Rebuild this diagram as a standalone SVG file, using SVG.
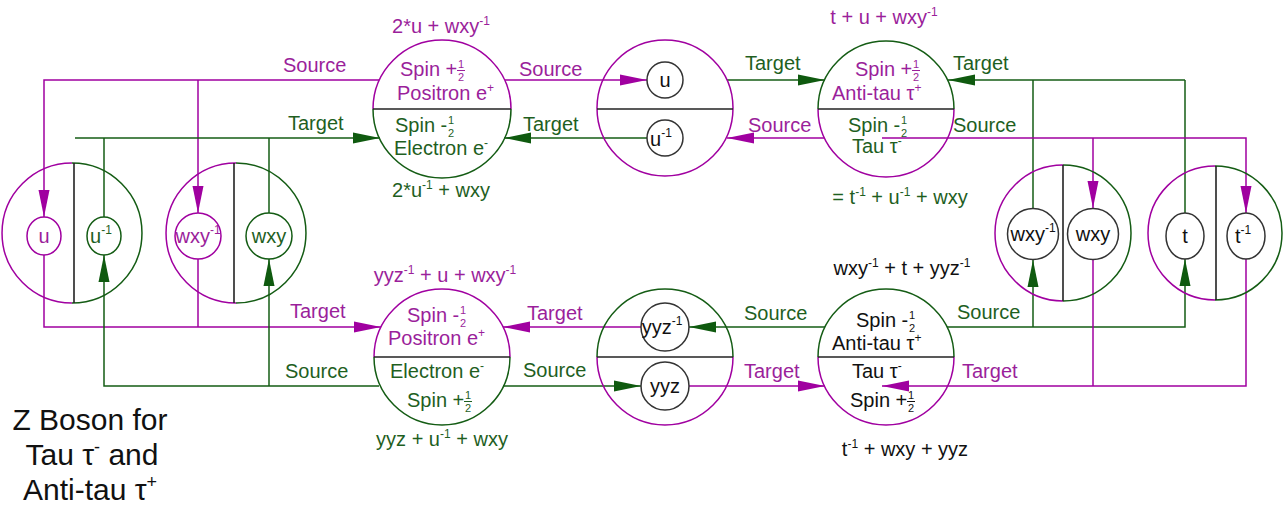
<svg xmlns="http://www.w3.org/2000/svg" width="1286" height="508" viewBox="0 0 1286 508">
<style>
text{font-family:"Liberation Sans",Arial,sans-serif;font-size:20px}
.m{fill:#9b1f9b}.g{fill:#1f5f1f}.k{fill:#111}
.fr{font-size:11px}
.sm{font-size:12px}
.big{font-size:30px;fill:#111}
.lm{stroke:#a000a0;stroke-width:1.5;fill:none}
.lg{stroke:#145c14;stroke-width:1.5;fill:none}
.ak{stroke:#333;stroke-width:1.5;fill:none}
.dv{stroke:#222;stroke-width:1.6}
.bm{stroke:#9b1f9b;stroke-width:1}
.bg{stroke:#1f5f1f;stroke-width:1}
.bk{stroke:#111;stroke-width:1}
</style>
<defs>
<marker id="aM" markerUnits="userSpaceOnUse" markerWidth="28" markerHeight="12" refX="27" refY="6" orient="auto"><path d="M0,0.5 L27,6 L0,11.5 z" fill="#a000a0"/></marker>
<marker id="aG" markerUnits="userSpaceOnUse" markerWidth="28" markerHeight="12" refX="27" refY="6" orient="auto"><path d="M0,0.5 L27,6 L0,11.5 z" fill="#0f5a0f"/></marker>
</defs>
<rect width="1286" height="508" fill="#fff"/>

<g id="connectors">
<path class="lm" d="M379,80 H44 V217" marker-end="url(#aM)"/>
<path class="lm" d="M198,80 V213" marker-end="url(#aM)"/>
<path class="lm" d="M44,255 V327 H381" marker-end="url(#aM)"/>
<path class="lm" d="M198,259 V327"/>
<path class="lg" d="M75,138 H380" marker-end="url(#aG)"/>
<path class="lg" d="M104,138 V217"/>
<path class="lg" d="M269,138 V213"/>
<path class="lg" d="M379,386 H104 V255" marker-end="url(#aG)"/>
<path class="lg" d="M269,386 V259" marker-end="url(#aG)"/>
<path class="lm" d="M505,80 H647" marker-end="url(#aM)"/>
<path class="lg" d="M647,138 H504" marker-end="url(#aG)"/>
<path class="lg" d="M727,80 H825" marker-end="url(#aG)"/>
<path class="lm" d="M824,138 H727" marker-end="url(#aM)"/>
<path class="lg" d="M1185,80 H948" marker-end="url(#aG)"/>
<path class="lg" d="M1033,80 V208"/>
<path class="lg" d="M1185,80 V213"/>
<path class="lm" d="M882,138 H1246 V213" marker-end="url(#aM)"/>
<path class="lm" d="M1093,138 V208" marker-end="url(#aM)"/>
<path class="lg" d="M947,327 H1185 V259" marker-end="url(#aG)"/>
<path class="lg" d="M1033,327 V260" marker-end="url(#aG)"/>
<path class="lm" d="M1093,260 V386"/>
<path class="lm" d="M1246,259 V386 H882" marker-end="url(#aM)"/>
<path class="lm" d="M641,327 H503" marker-end="url(#aM)"/>
<path class="lg" d="M825,327 H689" marker-end="url(#aG)"/>
<path class="lg" d="M503,386 H641" marker-end="url(#aG)"/>
<path class="lm" d="M689,386 H825" marker-end="url(#aM)"/>
<text class="m" x="283" y="72">Source</text>
<text class="g" x="288" y="130">Target</text>
<text class="m" x="519" y="76">Source</text>
<text class="g" x="523" y="131">Target</text>
<text class="g" x="745" y="70">Target</text>
<text class="m" x="748" y="132">Source</text>
<text class="g" x="953" y="70">Target</text>
<text class="g" x="953" y="132">Source</text>
<text class="m" x="290" y="318">Target</text>
<text class="g" x="285" y="378">Source</text>
<text class="m" x="527" y="320">Target</text>
<text class="g" x="523" y="377">Source</text>
<text class="g" x="744" y="320">Source</text>
<text class="m" x="744" y="378">Target</text>
<text class="g" x="957" y="319">Source</text>
<text class="m" x="962" y="378">Target</text>
</g>

<g id="electron-top">
<path class="lm" d="M373,109 A69,69 0 0 1 511,109"/>
<path class="lg" d="M511,109 A69,69 0 0 1 373,109"/>
<line class="dv" x1="373" y1="109" x2="511" y2="109"/>
<text class="m" x="441" y="33" text-anchor="middle">2*u + wxy<tspan class="sm" dy="-8">-1</tspan></text>
<text class="m" x="400" y="76">Spin +</text>
<text class="m fr" x="458" y="68">1</text><text class="m fr" x="458" y="81">2</text>
<line class="bm" x1="457" y1="70.5" x2="465" y2="70.5"/>
<text class="m" x="397" y="100">Positron e<tspan class="sm" dy="-8">+</tspan></text>
<text class="g" x="395" y="132">Spin -</text>
<text class="g fr" x="448" y="124">1</text><text class="g fr" x="448" y="137">2</text>
<text class="g" x="394" y="155">Electron e<tspan class="sm" dy="-8">-</tspan></text>
<text class="g" x="441" y="197" text-anchor="middle">2*u<tspan class="sm" dy="-8">-1</tspan><tspan dy="8"> + wxy</tspan></text>
</g>

<g id="mid-top">
<circle class="lm" cx="665" cy="108" r="68"/>
<line class="dv" x1="597" y1="109" x2="733" y2="109"/>
<circle class="ak" cx="665" cy="80" r="18"/>
<text class="k" x="665" y="87" text-anchor="middle">u</text>
<circle class="ak" cx="665" cy="138" r="18"/>
<text class="k" x="661" y="146" text-anchor="middle">u<tspan class="sm" dy="-9">-1</tspan></text>
</g>

<g id="antitau-top">
<path class="lg" d="M818,109 A68,68 0 0 1 954,109"/>
<path class="lm" d="M954,109 A68,68 0 0 1 818,109"/>
<line class="dv" x1="818" y1="109" x2="954" y2="109"/>
<text class="m" x="884" y="24" text-anchor="middle">t + u + wxy<tspan class="sm" dy="-8">-1</tspan></text>
<text class="m" x="855" y="76">Spin +</text>
<text class="m fr" x="913" y="68">1</text><text class="m fr" x="913" y="81">2</text>
<line class="bm" x1="912" y1="70.5" x2="920" y2="70.5"/>
<text class="m" x="832" y="100">Anti-tau τ<tspan class="sm" dy="-8">+</tspan></text>
<text class="g" x="848" y="132">Spin -</text>
<text class="g fr" x="901" y="124">1</text><text class="g fr" x="901" y="137">2</text>
<text class="g" x="852" y="153">Tau τ<tspan class="sm" dy="-8">-</tspan></text>
<text class="g" x="900" y="204" text-anchor="middle">= t<tspan class="sm" dy="-8">-1</tspan><tspan dy="8"> + u</tspan><tspan class="sm" dy="-8">-1</tspan><tspan dy="8"> + wxy</tspan></text>
</g>

<g id="u-pair">
<path class="lm" d="M72,303 A70,70 0 0 1 72,163"/>
<path class="lg" d="M72,163 A70,70 0 0 1 72,303"/>
<line class="dv" x1="74" y1="163" x2="74" y2="303"/>
<ellipse class="lm" cx="44" cy="236" rx="17" ry="19"/>
<text class="m" x="44" y="243" text-anchor="middle">u</text>
<ellipse class="lg" cx="104" cy="236" rx="17" ry="19"/>
<text class="g" x="101" y="243" text-anchor="middle">u<tspan class="sm" dy="-9">-1</tspan></text>
</g>

<g id="wxy-pair-left">
<path class="lm" d="M236,303 A70,70 0 0 1 236,163"/>
<path class="lg" d="M236,163 A70,70 0 0 1 236,303"/>
<line class="dv" x1="234" y1="163" x2="234" y2="303"/>
<circle class="lm" cx="198" cy="236" r="23"/>
<text class="m" x="198" y="243" text-anchor="middle">wxy<tspan class="sm" dy="-9">-1</tspan></text>
<circle class="lg" cx="269" cy="236" r="23"/>
<text class="g" x="269" y="243" text-anchor="middle">wxy</text>
</g>

<g id="wxy-pair-right">
<path class="lm" d="M1063,301 A68,68 0 0 1 1063,165"/>
<path class="lg" d="M1063,165 A68,68 0 0 1 1063,301"/>
<line class="dv" x1="1063" y1="165" x2="1063" y2="301"/>
<circle class="ak" cx="1033" cy="234" r="25.5"/>
<text class="k" x="1033" y="241" text-anchor="middle">wxy<tspan class="sm" dy="-9">-1</tspan></text>
<circle class="ak" cx="1093" cy="234" r="25.5"/>
<text class="k" x="1093" y="241" text-anchor="middle">wxy</text>
</g>

<g id="t-pair">
<path class="lm" d="M1215,300 A67,67 0 0 1 1215,166"/>
<path class="lg" d="M1215,166 A67,67 0 0 1 1215,300"/>
<line class="dv" x1="1216" y1="166" x2="1216" y2="300"/>
<ellipse class="ak" cx="1185" cy="236" rx="19" ry="23"/>
<text class="k" x="1185" y="243" text-anchor="middle">t</text>
<ellipse class="ak" cx="1246" cy="236" rx="19" ry="23"/>
<text class="k" x="1243" y="243" text-anchor="middle">t<tspan class="sm" dy="-9">-1</tspan></text>
</g>

<g id="positron-bottom">
<path class="lm" d="M374,357 A68,68 0 0 1 510,357"/>
<path class="lg" d="M510,357 A68,68 0 0 1 374,357"/>
<line class="dv" x1="374" y1="357" x2="510" y2="357"/>
<text class="m" x="445" y="282" text-anchor="middle">yyz<tspan class="sm" dy="-8">-1</tspan><tspan dy="8"> + u + wxy</tspan><tspan class="sm" dy="-8">-1</tspan></text>
<text class="m" x="407" y="322">Spin -</text>
<text class="m fr" x="460" y="314">1</text><text class="m fr" x="460" y="327">2</text>
<text class="m" x="388" y="345">Positron e<tspan class="sm" dy="-8">+</tspan></text>
<text class="g" x="390" y="378">Electron e<tspan class="sm" dy="-8">-</tspan></text>
<text class="g" x="407" y="407">Spin +</text>
<text class="g fr" x="465" y="399">1</text><text class="g fr" x="465" y="412">2</text>
<line class="bg" x1="464" y1="401.5" x2="472" y2="401.5"/>
<text class="g" x="442" y="446" text-anchor="middle">yyz + u<tspan class="sm" dy="-8">-1</tspan><tspan dy="8"> + wxy</tspan></text>
</g>

<g id="mid-bottom">
<path class="lg" d="M597,357 A68,68 0 0 1 733,357"/>
<path class="lm" d="M733,357 A68,68 0 0 1 597,357"/>
<line class="dv" x1="597" y1="357" x2="733" y2="357"/>
<circle class="ak" cx="665" cy="327" r="24"/>
<text class="k" x="662" y="334" text-anchor="middle">yyz<tspan class="sm" dy="-9">-1</tspan></text>
<circle class="ak" cx="665" cy="386" r="24"/>
<text class="k" x="665" y="393" text-anchor="middle">yyz</text>
</g>

<g id="tau-bottom">
<path class="lg" d="M818,357 A68,68 0 0 1 954,357"/>
<path class="lm" d="M954,357 A68,68 0 0 1 818,357"/>
<line class="dv" x1="818" y1="357" x2="954" y2="357"/>
<text class="k" x="902" y="275" text-anchor="middle">wxy<tspan class="sm" dy="-8">-1</tspan><tspan dy="8"> + t + yyz</tspan><tspan class="sm" dy="-8">-1</tspan></text>
<text class="k" x="856" y="327">Spin -</text>
<text class="k fr" x="909" y="319">1</text><text class="k fr" x="909" y="332">2</text>
<text class="k" x="832" y="350">Anti-tau τ<tspan class="sm" dy="-8">+</tspan></text>
<text class="k" x="852" y="378">Tau τ<tspan class="sm" dy="-8">-</tspan></text>
<text class="k" x="850" y="407">Spin +</text>
<text class="k fr" x="908" y="399">1</text><text class="k fr" x="908" y="412">2</text>
<line class="bk" x1="907" y1="401.5" x2="915" y2="401.5"/>
<text class="k" x="905" y="456" text-anchor="middle">t<tspan class="sm" dy="-8">-1</tspan><tspan dy="8"> + wxy + yyz</tspan></text>
</g>

<g id="title">
<text class="big" x="90" y="430" text-anchor="middle">Z Boson for</text>
<text class="big" x="92" y="465" text-anchor="middle">Tau τ<tspan font-size="18" dy="-12">-</tspan><tspan dy="12"> and</tspan></text>
<text class="big" x="90" y="500" text-anchor="middle">Anti-tau τ<tspan font-size="18" dy="-12">+</tspan></text>
</g>
</svg>
